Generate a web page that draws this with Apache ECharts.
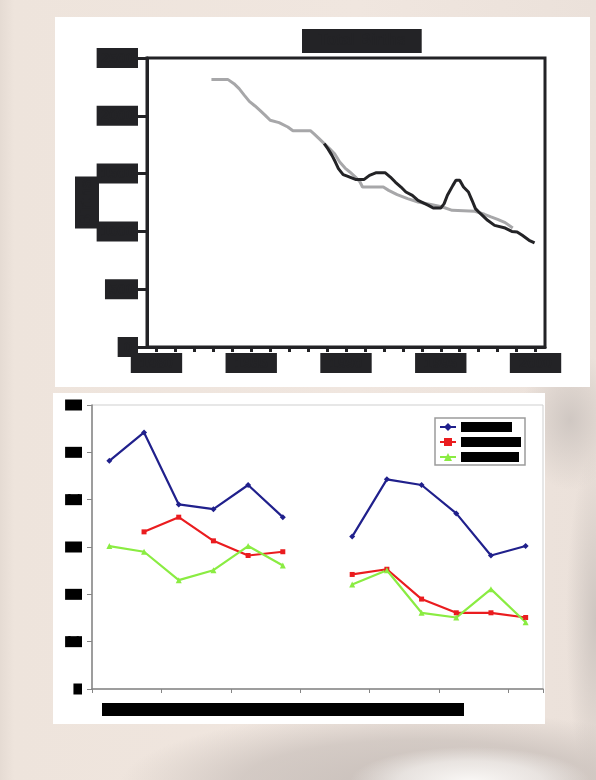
<!DOCTYPE html>
<html><head><meta charset="utf-8">
<script src="https://cdn.jsdelivr.net/npm/echarts@6/dist/echarts.min.js"></script>
<style>
html,body{margin:0;padding:0;width:596px;height:780px;overflow:hidden;}
body{background:
 radial-gradient(ellipse 120px 35px at 470px 782px, rgba(250,248,246,1) 0%, rgba(250,248,246,0.6) 60%, rgba(250,248,246,0) 100%),
 radial-gradient(ellipse 300px 75px at 420px 785px, rgba(200,191,186,1) 0%, rgba(200,191,186,0.7) 60%, rgba(200,191,186,0) 100%),
 radial-gradient(ellipse 50px 70px at 570px 420px, rgba(206,198,193,0.95) 0%, rgba(206,198,193,0) 100%),
 radial-gradient(ellipse 30px 170px at 596px 620px, rgba(204,196,191,0.95) 0%, rgba(204,196,191,0) 100%),
 linear-gradient(90deg, #e5dbd3 0px, #eee4dc 14px, #f0e6df 60%, #ebe1da 100%);}
#c1{position:absolute;left:55px;top:17px;width:535px;height:370px;background:#fff;}
#c2{position:absolute;left:53px;top:393px;width:492px;height:331px;background:#fff;}
</style></head>
<body><div id="c1"></div><div id="c2"></div>
<script>
// ---------- Top chart data ----------
const tickYears = [1980,1981,1982,1983,1984,1985,1986,1987,1988,1989,1990,1991,1992,1993,1994,1995,1996,1997,1998,1999,2000];
const labelYears = [1980,1985,1990,1995,2000];
const yTicksTop = [0,500,1000,1500,2000,2500];

const grayYears  = [1982.9,1983.76,1984.09,1984.36,1984.64,1984.9,1985.2,1985.46,1985.74,1986.0,1986.47,1986.93,1987.2,1988.12,1988.3,1988.58,1988.85,1989.13,1989.4,1989.67,1989.95,1990.2,1990.5,1990.74,1990.87,1991.97,1992.25,1992.7,1993.25,1993.8,1994.54,1995.1,1995.6,1996.8,1997.3,1997.65,1998.0,1998.4,1998.8];
const grayValues = [2315,2315,2278,2235,2177,2125,2085,2047,2004,1961,1941,1903,1871,1871,1845,1802,1759,1716,1672,1600,1548,1514,1470,1427,1384,1384,1355,1318,1283,1254,1231,1211,1182,1174,1148,1125,1104,1076,1030];

const blackYears  = [1988.85,1989.04,1989.26,1989.44,1989.6,1989.85,1990.1,1990.5,1990.96,1991.24,1991.6,1992.06,1992.34,1992.6,1992.9,1993.16,1993.5,1993.8,1994.35,1994.6,1995.0,1995.18,1995.35,1995.64,1995.8,1996.0,1996.2,1996.46,1996.65,1996.83,1997.1,1997.47,1997.84,1998.4,1998.75,1999.03,1999.3,1999.66,1999.95];
const blackValues = [1759,1716,1658,1600,1543,1491,1476,1450,1450,1485,1508,1508,1470,1427,1384,1341,1312,1269,1225,1202,1202,1240,1312,1398,1442,1442,1384,1341,1269,1197,1153,1096,1052,1029,1000,995,966,923,900];

const topTitle = 'Total Births';
const topYName = 'Births';

// ---------- Bottom chart data ----------
const categories = ['1987','1988','1989','1990','1991','1992','1993','1994','1995','1996','1997','1998','1999'];
const seriesNames = ['Total','Females','Males'];
const blueValues  = [0.482,0.542,0.390,0.380,0.431,0.363,null,0.322,0.443,0.431,0.371,0.282,0.302];
const redValues   = [null,0.332,0.363,0.313,0.282,0.290,null,0.242,0.253,0.190,0.161,0.161,0.151];
const greenValues = [0.302,0.290,0.230,0.251,0.302,0.261,null,0.221,0.251,0.161,0.151,0.211,0.141];
const bottomXName = 'Survey years 1987 to 1992 and 1994 to 1999 (both sexes)';

const INK = '#232326';
const FONT = 'Liberation Sans, Arial, sans-serif';

function pairs(xs, ys){ return xs.map((x,i)=>[x, ys[i]]); }

const c1 = echarts.init(document.getElementById('c1'), null, {renderer:'canvas'});
c1.setOption({
  animation:false,
  title:{text: topTitle, left:247, top:12, padding:[3,16,3,16], backgroundColor: INK,
    textStyle:{color: INK, fontSize:16, fontWeight:'bold', fontFamily: FONT, lineHeight:18}},
  grid:{left:92, top:41, width:398, height:289, show:true, borderColor: INK, borderWidth:3, backgroundColor:'rgba(0,0,0,0)'},
  xAxis:{type:'value', min:1979.5, max:2000.5,
    axisLine:{show:true, onZero:false, lineStyle:{color: INK, width:3}},
    axisTick:{show:true, customValues: tickYears, length:5, lineStyle:{color: INK, width:3}},
    axisLabel:{customValues: labelYears, margin:6, formatter: v => String(v),
      fontSize:15, fontWeight:'bold', fontFamily: FONT, color: INK, backgroundColor: INK, padding:[3,9,2,9], lineHeight:15},
    splitLine:{show:false}},
  yAxis:{type:'value', min:0, max:2500, interval:500,
    name: topYName, nameLocation:'middle', nameGap:48, nameRotate:90, nameMoveOverlap:false,
    nameTextStyle:{color: INK, backgroundColor: INK, fontSize:16, fontWeight:'bold', fontFamily: FONT, padding:[4,3,4,3], lineHeight:16},
    axisLine:{show:true, onZero:false, lineStyle:{color: INK, width:3}},
    axisTick:{show:true, length:9, lineStyle:{color: INK, width:3}},
    axisLabel:{margin:9, formatter: v => (v===0 ? '{z|0}' : '{n|' + v + '}'),
      rich:{
        n:{color: INK, backgroundColor: INK, fontSize:15, fontWeight:'bold', fontFamily: FONT, padding:[3,4,2,4], lineHeight:15},
        z:{color: INK, backgroundColor: INK, fontSize:15, fontWeight:'bold', fontFamily: FONT, padding:[3,6,2,6], lineHeight:15}
      }},
    splitLine:{show:false}},
  series:[
    {type:'line', name:'trend', data: pairs(grayYears, grayValues), symbol:'none', lineStyle:{color:'#a7a7a9', width:3}, z:2},
    {type:'line', name:'actual', data: pairs(blackYears, blackValues), symbol:'none', lineStyle:{color: INK, width:3}, z:3}
  ]
});

const legendRich = {
  a:{width:51, height:10, backgroundColor:'#000', color:'#000', fontSize:9, fontWeight:'bold', fontFamily: FONT},
  b:{width:60, height:10, backgroundColor:'#000', color:'#000', fontSize:9, fontWeight:'bold', fontFamily: FONT},
  c:{width:58, height:10, backgroundColor:'#000', color:'#000', fontSize:9, fontWeight:'bold', fontFamily: FONT}
};
const legendKey = {}; legendKey[seriesNames[0]]='a'; legendKey[seriesNames[1]]='b'; legendKey[seriesNames[2]]='c';

const c2 = echarts.init(document.getElementById('c2'), null, {renderer:'canvas'});
c2.setOption({
  animation:false,
  grid:{left:39, top:12, width:451, height:284, show:true, borderColor:'#cfcfcf', borderWidth:1},
  legend:{orient:'vertical', left:382, top:25, padding:[4,4,3,4], itemGap:5, itemWidth:16, itemHeight:10,
    borderColor:'#9c9c9c', borderWidth:1.5, backgroundColor:'#fff', data: seriesNames,
    formatter: n => '{' + legendKey[n] + '|' + n + '}',
    textStyle:{rich: legendRich}},
  xAxis:{type:'category', data: categories, boundaryGap:true,
    axisLine:{show:true, lineStyle:{color:'#858585', width:1.5}},
    axisTick:{show:true, length:4, lineStyle:{color:'#858585', width:1}},
    axisLabel:{show:false}, splitLine:{show:false}},
  yAxis:{type:'value', min:0, max:0.6, interval:0.1,
    axisLine:{show:true, lineStyle:{color:'#858585', width:1.5}},
    axisTick:{show:true, length:5, lineStyle:{color:'#858585', width:1}},
    axisLabel:{margin:10, formatter: v => (v===0 ? '0' : v.toFixed(1)),
      fontSize:10, fontWeight:'bold', fontFamily: FONT, color:'#000', backgroundColor:'#000', padding:[1,1.5,0,1.5], lineHeight:10},
    splitLine:{show:false}},
  graphic:[{type:'text', left:49, top:310, z:10,
    style:{text: bottomXName, fill:'#000', backgroundColor:'#000', width:362, height:13, overflow:'truncate',
      font:'bold 11px Liberation Sans, Arial, sans-serif'}}],
  series:[
    {type:'line', name: seriesNames[0], data: blueValues, connectNulls:false, symbol:'diamond', symbolSize:6,
      itemStyle:{color:'#20208c'}, lineStyle:{color:'#20208c', width:2.2}},
    {type:'line', name: seriesNames[1], data: redValues, connectNulls:false, symbol:'rect', symbolSize:5,
      itemStyle:{color:'#ea1c1f'}, lineStyle:{color:'#ea1c1f', width:2.2}},
    {type:'line', name: seriesNames[2], data: greenValues, connectNulls:false, symbol:'triangle', symbolSize:6,
      itemStyle:{color:'#8aec42'}, lineStyle:{color:'#8aec42', width:2.2}}
  ]
});
</script>
</body></html>
